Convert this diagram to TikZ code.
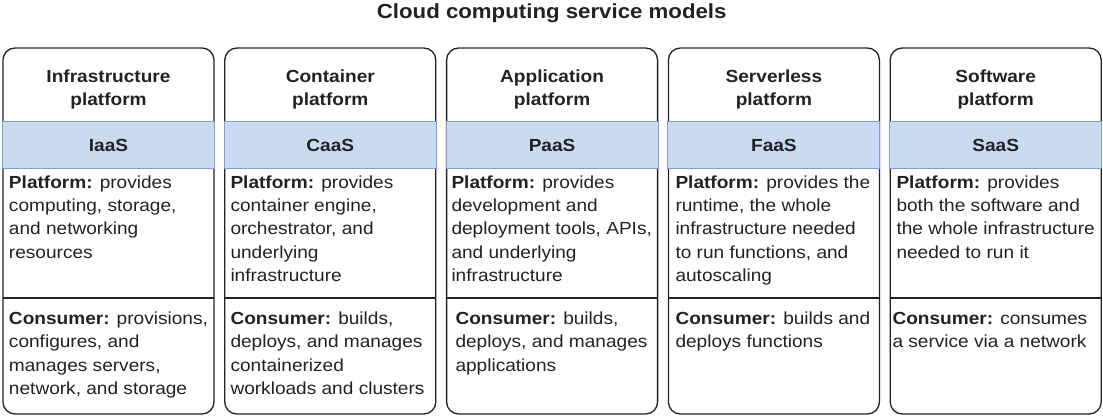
\documentclass[tikz,border=0pt]{standalone}
\usepackage{fontspec}
\setmainfont{Liberation Sans}[FakeStretch=1.09]
\definecolor{bandfill}{HTML}{C9DAF1}
\definecolor{bandline}{HTML}{7F9FD3}
\definecolor{ink}{HTML}{222222}

\begin{document}
\begin{tikzpicture}[x=1pt, y=-1pt, text=ink,
  every node/.style={inner sep=0pt, outer sep=0pt, font=\fontsize{17.5}{23.3}\selectfont},
  colbox/.style={draw=ink, line width=1.3pt, rounded corners=12pt, minimum width=211pt, minimum height=366pt},
  band/.style={draw=bandline, fill=bandfill, line width=1pt, minimum width=212pt, minimum height=47pt, font=\fontsize{17.5}{23.3}\selectfont\bfseries},
  head/.style={align=center, anchor=north, font=\fontsize{17.5}{23.3}\selectfont\bfseries},
  body/.style={align=left, anchor=north west},
  divider/.style={draw=ink, line width=1.3pt}]
  \useasboundingbox (0,0) rectangle (1103,417);
  \node[anchor=base, font=\fontsize{20.4}{24}\selectfont\bfseries] (title) at (551.7,18.5) {Cloud computing service models};

  % Infrastructure platform
  \node[colbox] (box1) at (108.5,231) {};
  \node[head] (h1) at (108.5,70) {Infrastructure\\platform};
  \node[band] (b1) at (108.5,145) {IaaS};
  \node[body] (p1) at (9,175.5) {\textbf{Platform:} provides\\computing, storage,\\and networking\\resources};
  \coordinate (d1) at (108.5,298);
  \draw[divider] (box1.west |- d1) -- (box1.east |- d1);
  \node[body] (c1) at (9,312) {\textbf{Consumer:} provisions,\\configures, and\\manages servers,\\network, and storage};

  % Container platform
  \node[colbox] (box2) at (330.3,231) {};
  \node[head] (h2) at (330.3,70) {Container\\platform};
  \node[band] (b2) at (330.3,145) {CaaS};
  \node[body] (p2) at (230.5,175.5) {\textbf{Platform:} provides\\container engine,\\orchestrator, and\\underlying\\infrastructure};
  \coordinate (d2) at (330.3,298);
  \draw[divider] (box2.west |- d2) -- (box2.east |- d2);
  \node[body] (c2) at (230.5,312) {\textbf{Consumer:} builds,\\deploys, and manages\\containerized\\workloads and clusters};

  % Application platform
  \node[colbox] (box3) at (552.1,231) {};
  \node[head] (h3) at (552.1,70) {Application\\platform};
  \node[band] (b3) at (552.1,145) {PaaS};
  \node[body] (p3) at (451.5,175.5) {\textbf{Platform:} provides\\development and\\deployment tools, APIs,\\and underlying\\infrastructure};
  \coordinate (d3) at (552.1,298);
  \draw[divider] (box3.west |- d3) -- (box3.east |- d3);
  \node[body] (c3) at (455.5,312) {\textbf{Consumer:} builds,\\deploys, and manages\\applications};

  % Serverless platform
  \node[colbox] (box4) at (773.9,231) {};
  \node[head] (h4) at (773.9,70) {Serverless\\platform};
  \node[band] (b4) at (773.9,145) {FaaS};
  \node[body] (p4) at (675.5,175.5) {\textbf{Platform:} provides the\\runtime, the whole\\infrastructure needed\\to run functions, and\\autoscaling};
  \coordinate (d4) at (773.9,298);
  \draw[divider] (box4.west |- d4) -- (box4.east |- d4);
  \node[body] (c4) at (675.5,312) {\textbf{Consumer:} builds and\\deploys functions};

  % Software platform
  \node[colbox] (box5) at (995.7,231) {};
  \node[head] (h5) at (995.7,70) {Software\\platform};
  \node[band] (b5) at (995.7,145) {SaaS};
  \node[body] (p5) at (896.5,175.5) {\textbf{Platform:} provides\\both the software and\\the whole infrastructure\\needed to run it};
  \coordinate (d5) at (995.7,298);
  \draw[divider] (box5.west |- d5) -- (box5.east |- d5);
  \node[body] (c5) at (892.5,312) {\textbf{Consumer:} consumes\\a service via a network};
\end{tikzpicture}
\end{document}
